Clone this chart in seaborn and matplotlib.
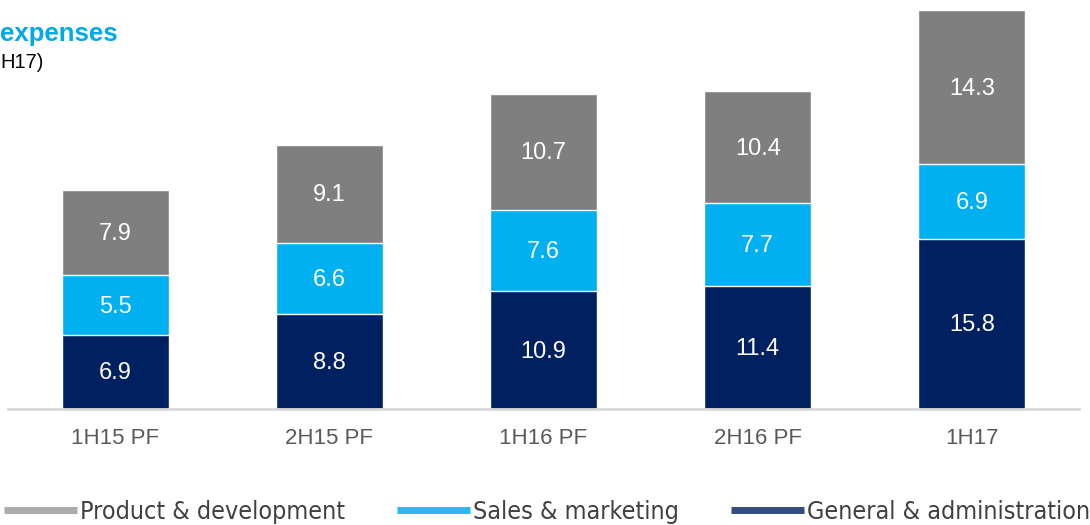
import numpy as np
import pandas as pd
import seaborn as sns
import matplotlib.pyplot as plt
from matplotlib.lines import Line2D

# half-year periods and expense components (EUR m)
periods = ["1H15 PF", "2H15 PF", "1H16 PF", "2H16 PF", "1H17"]
general_admin = [6.9, 8.8, 10.9, 11.4, 15.8]
sales_marketing = [5.5, 6.6, 7.6, 7.7, 6.9]
product_dev = [7.9, 9.1, 10.7, 10.4, 14.3]

c_ga, c_sm, c_pd = "#002060", "#00B0F0", "#7F7F7F"

sns.set_style("white")
plt.rcParams["font.family"] = ["Liberation Sans", "DejaVu Sans"]

fig = plt.figure(figsize=(10.9, 5.25), dpi=100)
ax = fig.add_axes([8 / 1090, 116 / 525, 1071 / 1090, 399 / 525])

ga = np.array(general_admin)
sm = np.array(sales_marketing)
pdv = np.array(product_dev)

# stacked bars: draw cumulative totals back to front
layers = [(ga + sm + pdv, c_pd), (ga + sm, c_sm), (ga, c_ga)]
for tops, color in layers:
    df = pd.DataFrame({"period": periods, "value": tops})
    sns.barplot(data=df, x="period", y="value", color=color, saturation=1,
                width=0.5, ax=ax, errorbar=None)

# segment labels
for vals, base in [(ga, 0 * ga), (sm, ga), (pdv, ga + sm)]:
    for i, v in enumerate(vals):
        ax.text(i, base[i] + v / 2 - 0.15, f"{v:.1f}", ha="center", va="center",
                color="white", fontsize=17)

ax.set_xlim(-0.5, 4.5)
ax.set_ylim(0, 37)
ax.set_xlabel("")
ax.set_ylabel("")
ax.set_yticks([])
ax.tick_params(axis="x", length=0, pad=14, labelsize=16, labelcolor="#595959")
for s in ["top", "left", "right"]:
    ax.spines[s].set_visible(False)
ax.spines["bottom"].set_color("#D9D9D9")
ax.spines["bottom"].set_linewidth(2)

# cut-off title at top left
fig.text(0, 1 - 34 / 525, "expenses", color="#00A9E8", fontsize=18.5,
         fontweight="bold", ha="left", va="center")
fig.text(0, 1 - 62 / 525, "H17)", color="black", fontsize=14.5,
         ha="left", va="center")

handles = [Line2D([], [], color=c_pd, lw=5, alpha=0.65, solid_capstyle="butt"),
           Line2D([], [], color=c_sm, lw=5, alpha=0.85, solid_capstyle="butt"),
           Line2D([], [], color=c_ga, lw=5, alpha=0.8, solid_capstyle="butt")]
labels = ["Product & development", "Sales & marketing", "General & administration"]
fig.legend(handles, labels, loc="center", bbox_to_anchor=(547 / 1090, 13 / 525),
           ncol=3, frameon=False, handlelength=2.9, handletextpad=0.12,
           columnspacing=2.1, labelcolor="#404040",
           prop={"family": "DejaVu Sans", "stretch": "condensed", "size": 18})

fig.savefig("out.png", dpi=100)
